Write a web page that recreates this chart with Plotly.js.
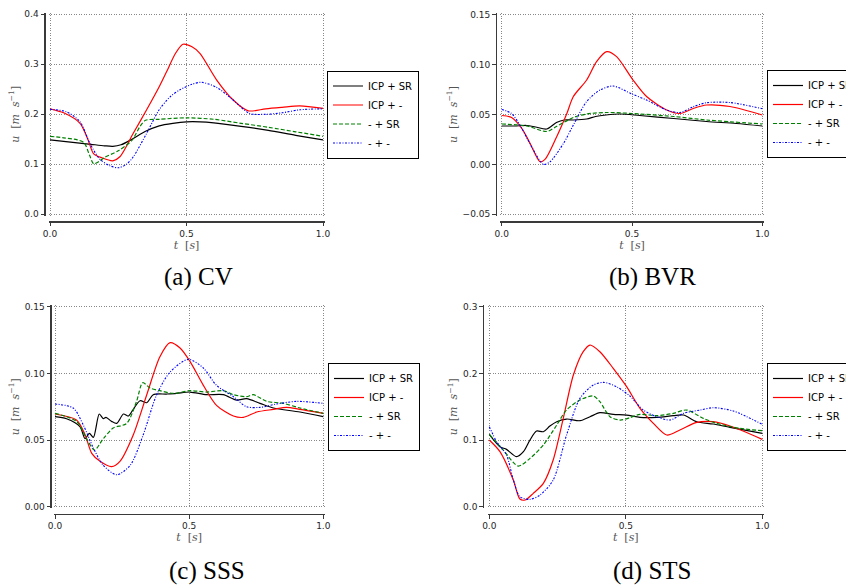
<!DOCTYPE html>
<html>
<head>
<meta charset="utf-8">
<script src="https://cdn.plot.ly/plotly-3.0.1.min.js"></script>
<style>html,body{margin:0;padding:0;background:#fff;}#chart{width:846px;height:585px;}</style>
</head>
<body>
<div id="chart"></div>
<script>
// ---------- data ----------
const seriesNames = ["ICP + SR", "ICP + -", "- + SR", "- + -"];
const panelCaptions = ["(a) CV", "(b) BVR", "(c) SSS", "(d) STS"];
const xTickVals = [0, 0.5, 1.0];

// (a) CV
const cv_icpsr_t = [0, 0.05, 0.1, 0.15, 0.2, 0.23, 0.26, 0.3, 0.35, 0.4, 0.45, 0.5, 0.55, 0.6, 0.7, 0.8, 0.9, 1.0];
const cv_icpsr_u = [0.149, 0.146, 0.143, 0.140, 0.137, 0.136, 0.139, 0.150, 0.166, 0.177, 0.182, 0.185, 0.185, 0.183, 0.176, 0.168, 0.158, 0.149];
const cv_icpm_t = [0, 0.05, 0.11, 0.14, 0.16, 0.19, 0.23, 0.256, 0.305, 0.354, 0.40, 0.427, 0.46, 0.487, 0.52, 0.549, 0.61, 0.67, 0.726, 0.79, 0.85, 0.915, 1.0];
const cv_icpm_u = [0.211, 0.203, 0.182, 0.148, 0.121, 0.113, 0.107, 0.115, 0.162, 0.209, 0.255, 0.285, 0.322, 0.340, 0.335, 0.322, 0.269, 0.229, 0.207, 0.211, 0.214, 0.217, 0.212];
const cv_msr_t = [0, 0.05, 0.1, 0.125, 0.145, 0.16, 0.18, 0.2, 0.25, 0.3, 0.33, 0.35, 0.4, 0.5, 0.6, 0.7, 0.8, 0.9, 1.0];
const cv_msr_u = [0.156, 0.153, 0.149, 0.143, 0.118, 0.101, 0.106, 0.114, 0.127, 0.148, 0.176, 0.188, 0.190, 0.193, 0.190, 0.182, 0.174, 0.165, 0.156];
const cv_mm_t = [0, 0.06, 0.11, 0.146, 0.183, 0.22, 0.25, 0.28, 0.305, 0.354, 0.40, 0.44, 0.476, 0.52, 0.555, 0.61, 0.67, 0.73, 0.79, 0.85, 0.915, 1.0];
const cv_mm_u = [0.210, 0.205, 0.185, 0.142, 0.110, 0.097, 0.093, 0.100, 0.115, 0.162, 0.209, 0.235, 0.249, 0.260, 0.264, 0.254, 0.229, 0.202, 0.200, 0.203, 0.209, 0.211];

// (b) BVR
const bvr_icpsr_t = [0, 0.05, 0.096, 0.13, 0.173, 0.21, 0.24, 0.275, 0.326, 0.36, 0.40, 0.454, 0.53, 0.66, 0.786, 0.9, 1.0];
const bvr_icpsr_u = [0.0385, 0.0385, 0.039, 0.0375, 0.0355, 0.042, 0.0445, 0.0445, 0.0455, 0.048, 0.0495, 0.0505, 0.049, 0.046, 0.043, 0.041, 0.0385];
const bvr_icpm_t = [0, 0.038, 0.077, 0.109, 0.147, 0.166, 0.211, 0.25, 0.275, 0.326, 0.364, 0.403, 0.441, 0.5, 0.556, 0.633, 0.684, 0.735, 0.786, 0.876, 1.0];
const bvr_icpm_u = [0.049, 0.047, 0.036, 0.021, 0.0027, 0.005, 0.0278, 0.051, 0.068, 0.0846, 0.103, 0.113, 0.108, 0.086, 0.068, 0.0545, 0.051, 0.056, 0.0595, 0.058, 0.0495];
const bvr_msr_t = [0, 0.096, 0.173, 0.21, 0.275, 0.326, 0.4, 0.5, 0.66, 0.786, 1.0];
const bvr_msr_u = [0.0405, 0.0385, 0.033, 0.038, 0.047, 0.0505, 0.052, 0.051, 0.048, 0.0445, 0.0405];
const bvr_mm_t = [0, 0.038, 0.077, 0.121, 0.16, 0.185, 0.237, 0.275, 0.326, 0.377, 0.428, 0.5, 0.556, 0.633, 0.684, 0.735, 0.786, 0.876, 1.0];
const bvr_mm_u = [0.055, 0.051, 0.036, 0.0148, 0.0, 0.0025, 0.021, 0.0395, 0.063, 0.0745, 0.0785, 0.0705, 0.0645, 0.0545, 0.052, 0.0578, 0.0618, 0.062, 0.0558];

// (c) SSS
const sss_icpsr_t = [0, 0.043, 0.093, 0.112, 0.128, 0.143, 0.165, 0.18, 0.19, 0.211, 0.23, 0.255, 0.273, 0.29, 0.317, 0.342, 0.366, 0.416, 0.453, 0.503, 0.565, 0.627, 0.677, 0.714, 0.764, 0.814, 0.913, 1.0];
const sss_icpsr_u = [0.0675, 0.066, 0.060, 0.051, 0.055, 0.052, 0.0695, 0.066, 0.067, 0.064, 0.0625, 0.0695, 0.068, 0.0725, 0.0795, 0.078, 0.084, 0.0845, 0.085, 0.086, 0.084, 0.084, 0.080, 0.081, 0.0775, 0.074, 0.071, 0.0675];
const sss_icpm_t = [0, 0.08, 0.112, 0.137, 0.168, 0.211, 0.242, 0.292, 0.342, 0.391, 0.429, 0.466, 0.503, 0.553, 0.602, 0.665, 0.702, 0.752, 0.814, 0.863, 0.913, 1.0];
const sss_icpm_u = [0.0695, 0.065, 0.054, 0.040, 0.034, 0.030, 0.034, 0.054, 0.084, 0.1125, 0.123, 0.119, 0.109, 0.091, 0.076, 0.068, 0.067, 0.071, 0.073, 0.0745, 0.073, 0.070];
const sss_msr_t = [0, 0.08, 0.118, 0.147, 0.18, 0.217, 0.267, 0.304, 0.327, 0.354, 0.391, 0.441, 0.503, 0.565, 0.627, 0.665, 0.714, 0.739, 0.789, 0.851, 0.913, 1.0];
const sss_msr_u = [0.070, 0.064, 0.051, 0.0425, 0.051, 0.059, 0.0625, 0.079, 0.093, 0.089, 0.087, 0.085, 0.087, 0.086, 0.087, 0.084, 0.0825, 0.084, 0.079, 0.0775, 0.074, 0.070];
const sss_mm_t = [0, 0.068, 0.106, 0.143, 0.18, 0.23, 0.28, 0.329, 0.379, 0.429, 0.497, 0.553, 0.602, 0.665, 0.714, 0.764, 0.826, 0.901, 1.0];
const sss_mm_u = [0.077, 0.074, 0.061, 0.044, 0.031, 0.024, 0.031, 0.054, 0.084, 0.101, 0.1105, 0.104, 0.091, 0.0825, 0.075, 0.0745, 0.077, 0.079, 0.0775];

// (d) STS
const sts_icpsr_t = [0, 0.039, 0.063, 0.1, 0.125, 0.149, 0.173, 0.198, 0.222, 0.247, 0.283, 0.332, 0.369, 0.405, 0.454, 0.503, 0.552, 0.613, 0.674, 0.711, 0.76, 0.82, 0.882, 1.0];
const sts_icpsr_u = [0.1085, 0.090, 0.086, 0.075, 0.0825, 0.100, 0.1135, 0.1125, 0.121, 0.1275, 0.1315, 0.129, 0.135, 0.141, 0.1385, 0.1375, 0.134, 0.134, 0.1365, 0.1375, 0.1275, 0.124, 0.119, 0.110];
const sts_icpm_t = [0, 0.039, 0.088, 0.112, 0.131, 0.161, 0.198, 0.234, 0.271, 0.308, 0.344, 0.369, 0.405, 0.454, 0.503, 0.552, 0.601, 0.65, 0.698, 0.76, 0.82, 0.882, 1.0];
const sts_icpm_u = [0.100, 0.0825, 0.040, 0.0115, 0.010, 0.020, 0.035, 0.070, 0.1325, 0.1975, 0.2325, 0.2425, 0.2325, 0.2075, 0.180, 0.1475, 0.125, 0.1075, 0.115, 0.1265, 0.1275, 0.121, 0.101];
const sts_msr_t = [0, 0.051, 0.106, 0.149, 0.198, 0.247, 0.283, 0.332, 0.381, 0.405, 0.442, 0.479, 0.515, 0.552, 0.613, 0.674, 0.723, 0.784, 0.833, 0.918, 1.0];
const sts_msr_u = [0.1085, 0.085, 0.061, 0.0725, 0.0925, 0.1225, 0.145, 0.160, 0.166, 0.1575, 0.135, 0.130, 0.1335, 0.1385, 0.1365, 0.140, 0.145, 0.1325, 0.125, 0.1175, 0.114];
const sts_mm_t = [0, 0.027, 0.063, 0.088, 0.112, 0.149, 0.186, 0.234, 0.283, 0.332, 0.381, 0.418, 0.466, 0.515, 0.564, 0.613, 0.662, 0.711, 0.772, 0.82, 0.894, 1.0];
const sts_mm_u = [0.120, 0.0975, 0.0775, 0.040, 0.015, 0.011, 0.0175, 0.040, 0.1075, 0.1625, 0.1825, 0.1865, 0.180, 0.166, 0.145, 0.135, 0.130, 0.140, 0.145, 0.1485, 0.1435, 0.1235];

const xRange = [0, 1];
const yRanges = [[0, 0.4], [-0.05, 0.15], [0, 0.15], [0, 0.3]];
const yDticks = [0.1, 0.05, 0.05, 0.1];
const yFormats = [".1f", ".2f", ".2f", ".1f"];

// ---------- styling ----------
const W = 846, H = 585;
const px = v => v / W;
const py = v => 1 - v / H;
const EDGE = 1.5; // px of padding so the boundary grid lines are kept

const lineStyles = [
  {color: "#000000", width: 1.2, dash: "solid"},
  {color: "#ff0000", width: 1.2, dash: "solid"},
  {color: "#008000", width: 1.2, dash: "4px,2px"},
  {color: "#0000ff", width: 1.1, dash: "2px,1.5px,1px,1.5px"}
];

// panel geometry in pixels: [x0, x1, yTop, yBottom, leftSpineX, bottomSpineY]
const geo = [
  [50, 323, 14.3, 214.3, 44, 221],
  [501.7, 762.3, 14.7, 214.3, 495.5, 221],
  [55, 323.3, 306.7, 506.7, 50, 513.5],
  [489.3, 762.3, 306.7, 506.7, 482.7, 513.5]
];
const legendPos = [[327, 114.5], [767, 114], [328, 407], [767, 407]];
const captionPos = [[198, 277], [652, 277], [207, 571], [652, 571]];

const panels = [
  [[cv_icpsr_t, cv_icpsr_u], [cv_icpm_t, cv_icpm_u], [cv_msr_t, cv_msr_u], [cv_mm_t, cv_mm_u]],
  [[bvr_icpsr_t, bvr_icpsr_u], [bvr_icpm_t, bvr_icpm_u], [bvr_msr_t, bvr_msr_u], [bvr_mm_t, bvr_mm_u]],
  [[sss_icpsr_t, sss_icpsr_u], [sss_icpm_t, sss_icpm_u], [sss_msr_t, sss_msr_u], [sss_mm_t, sss_mm_u]],
  [[sts_icpsr_t, sts_icpsr_u], [sts_icpm_t, sts_icpm_u], [sts_msr_t, sts_msr_u], [sts_mm_t, sts_mm_u]]
];

const tickFont = {family: "DejaVu Sans, sans-serif", size: 9, color: "#262626"};
const titleFont = {family: "DejaVu Serif, serif", size: 11, color: "#555555"};
const spineColor = "#3a3a3a";

const traces = [];
const layout = {
  width: W, height: H,
  margin: {l: 0, r: 0, t: 0, b: 0, autoexpand: false},
  paper_bgcolor: "#ffffff",
  plot_bgcolor: "#ffffff",
  showlegend: true,
  annotations: []
};

function padded(r, lenPx) {
  const e = EDGE / lenPx * (r[1] - r[0]);
  return [r[0] - e, r[1] + e];
}

panels.forEach((series, p) => {
  const xa = p === 0 ? "x" : "x" + (p + 1);
  const ya = p === 0 ? "y" : "y" + (p + 1);
  const lg = p === 0 ? "legend" : "legend" + (p + 1);
  series.forEach((s, i) => {
    traces.push({
      type: "scatter", mode: "lines",
      x: s[0], y: s[1],
      name: seriesNames[i],
      xaxis: xa, yaxis: ya, legend: lg,
      line: Object.assign({shape: "spline", smoothing: 0.8}, lineStyles[i]),
      hoverinfo: "skip"
    });
  });
  const g = geo[p];
  const common = {
    showline: true, linecolor: spineColor, linewidth: 1.5,
    ticks: "outside", ticklen: 3.5, tickwidth: 1, tickcolor: spineColor,
    showgrid: true, gridcolor: "#7a7a7a", griddash: "1px,1.5px", gridwidth: 0.9,
    zeroline: false, tickfont: tickFont, anchor: "free", fixedrange: true
  };
  layout[p === 0 ? "xaxis" : "xaxis" + (p + 1)] = Object.assign({}, common, {
    domain: [px(g[0] - EDGE), px(g[1] + EDGE)],
    position: py(g[5]),
    range: padded(xRange, g[1] - g[0]),
    tickvals: xTickVals, tickformat: ".1f",
    title: {text: "<i>t</i>  [<i>s</i>]", font: titleFont, standoff: 0}
  });
  layout[p === 0 ? "yaxis" : "yaxis" + (p + 1)] = Object.assign({}, common, {
    domain: [py(g[3] + EDGE), py(g[2] - EDGE)],
    position: px(g[4]),
    range: padded(yRanges[p], g[3] - g[2]),
    tickvals: null, dtick: yDticks[p], tick0: 0, tickformat: yFormats[p],
    title: {text: "<i>u</i>  [<i>m  s</i><sup>−1</sup>]", font: titleFont, standoff: 1}
  });
  layout[lg] = {
    x: px(legendPos[p][0]), y: py(legendPos[p][1]),
    xanchor: "left", yanchor: "middle",
    bgcolor: "#ffffff", bordercolor: "#000000", borderwidth: 1,
    font: {family: "DejaVu Sans, sans-serif", size: 10, color: "#000000"},
    tracegroupgap: 0
  };
  layout.annotations.push({
    xref: "paper", yref: "paper",
    x: px(captionPos[p][0]), y: py(captionPos[p][1]),
    xanchor: "center", yanchor: "middle",
    text: panelCaptions[p], showarrow: false,
    font: {family: "Liberation Serif, serif", size: 25, color: "#000000"}
  });
});

Plotly.newPlot("chart", traces, layout, {displayModeBar: false, staticPlot: true});
</script>
</body>
</html>
